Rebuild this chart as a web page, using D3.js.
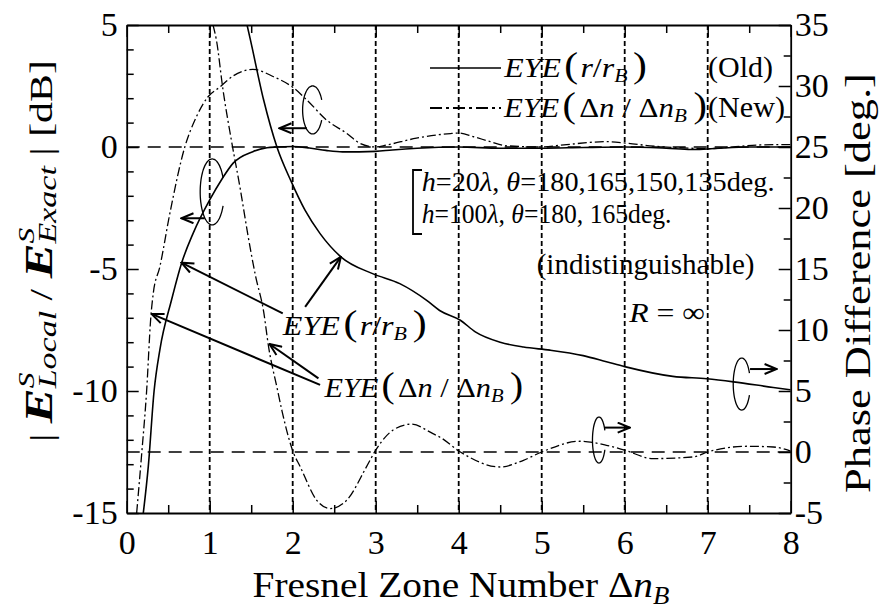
<!DOCTYPE html>
<html>
<head>
<meta charset="utf-8">
<script src="https://cdn.jsdelivr.net/npm/d3@7"></script>
<style>
  html, body { margin: 0; padding: 0; background: #fff; }
  svg { display: block; }
</style>
</head>
<body>
<svg id="chart" width="887" height="612"></svg>
<script>
// ---- axis ticks ----
const xTicks = [0, 1, 2, 3, 4, 5, 6, 7, 8];
const xMinor = [0.5, 1.5, 2.5, 3.5, 4.5, 5.5, 6.5, 7.5];
const dbTicks = [-15, -10, -5, 0, 5];
const dbMinor = [-14, -13, -12, -11, -9, -8, -7, -6, -4, -3, -2, -1, 1, 2, 3, 4];
const degTicks = [-5, 0, 5, 10, 15, 20, 25, 30, 35];
const degMinor = [-2.5, 2.5, 7.5, 12.5, 17.5, 22.5, 27.5, 32.5];
const zoneLines = [1, 2, 3, 4, 5, 6, 7];

// ---- EYE(r/rB) (Old): amplitude ratio [dB] ----
const ampOldDn = [0.20, 0.26, 0.33, 0.40, 0.54, 0.66, 0.80, 1.00, 1.15, 1.28, 1.52, 1.69, 1.80, 2.00, 2.20, 2.40, 2.60, 2.80, 3.00, 3.20, 3.50, 4.00, 4.50, 5.00, 5.50, 6.00, 6.50, 6.80, 7.00, 7.50, 8.00];
const ampOldDb = [-15.0, -13.1, -10.0, -8.3, -6.27, -4.77, -3.54, -2.17, -1.3, -0.67, -0.19, -0.03, 0.0, 0.02, -0.04, -0.14, -0.2, -0.2, -0.18, -0.12, -0.05, 0.0, -0.05, -0.05, -0.02, 0.0, -0.05, -0.1, -0.08, 0.0, 0.0];

// ---- EYE(Δn/ΔnB) (New): amplitude ratio [dB] ----
const ampNewDn = [0.12, 0.18, 0.24, 0.29, 0.32, 0.40, 0.52, 0.70, 0.84, 0.98, 1.12, 1.28, 1.52, 1.77, 2.00, 2.17, 2.41, 2.65, 2.81, 3.00, 3.13, 3.49, 3.90, 4.00, 4.18, 4.38, 4.58, 4.98, 5.30, 5.78, 6.02, 6.30, 6.79, 6.99, 7.30, 7.60, 8.00];
const ampNewDb = [-15.0, -12.6, -10.0, -7.0, -6.0, -4.9, -2.72, 0.0, 1.24, 2.06, 2.45, 2.91, 3.18, 2.88, 2.45, 1.93, 1.1, 0.56, 0.15, 0.0, 0.08, 0.36, 0.55, 0.57, 0.42, 0.22, 0.05, 0.0, 0.1, 0.22, 0.16, 0.05, -0.05, -0.07, 0.0, 0.08, 0.1];

// ---- EYE(r/rB) (Old): phase difference [deg.] ----
const phOldDn = [1.45, 1.49, 1.65, 1.81, 1.98, 2.15, 2.33, 2.58, 2.97, 3.29, 3.61, 3.77, 4.02, 4.20, 4.50, 4.78, 5.10, 5.50, 5.78, 6.00, 6.58, 6.99, 7.31, 7.79, 8.00];
const phOldDeg = [35.0, 33.8, 28.85, 25.0, 22.2, 19.8, 17.9, 16.0, 14.6, 13.8, 12.45, 11.6, 10.8, 9.85, 9.0, 8.6, 8.35, 7.9, 7.4, 7.0, 6.2, 6.0, 5.75, 5.29, 5.1];

// ---- EYE(Δn/ΔnB) (New): phase difference [deg.] ----
const phNewDn = [1.04, 1.08, 1.16, 1.26, 1.37, 1.46, 1.55, 1.65, 1.71, 1.81, 1.87, 1.95, 2.00, 2.09, 2.29, 2.45, 2.65, 2.89, 3.00, 3.21, 3.43, 3.69, 3.77, 4.02, 4.50, 4.78, 5.00, 5.46, 5.78, 6.00, 6.34, 6.83, 7.00, 7.47, 7.79, 8.00];
const phNewDeg = [35.0, 33.8, 29.7, 25.6, 21.5, 17.8, 14.5, 11.5, 8.6, 5.3, 3.4, 1.2, 0.1, -1.2, -3.96, -4.64, -3.96, -1.2, 0.15, 1.8, 2.28, 1.5, 1.23, 0.0, -1.23, -0.68, 0.0, 0.88, 0.55, 0.15, -0.54, -0.4, 0.0, 0.47, 0.41, 0.08];

const FONT = "'Liberation Serif', serif";
const svg = d3.select('#chart');

const x = d3.scaleLinear().domain([0, 8]).range([126.7, 790.7]);
const yL = d3.scaleLinear().domain([-15, 5]).range([513, 25]);
const yR = d3.scaleLinear().domain([-5, 35]).range([513, 25]);

const X0 = x.range()[0], X1 = x.range()[1];
const Y0 = yL.range()[0], Y1 = yL.range()[1];

const defs = svg.append('defs');
// clip for the curves
defs.append('clipPath').attr('id', 'plot-clip')
  .append('rect').attr('x', X0).attr('y', Y1).attr('width', X1 - X0).attr('height', Y0 - Y1);

// open arrow head
defs.append('marker')
  .attr('id', 'head').attr('viewBox', '0 0 14 12')
  .attr('markerWidth', 14).attr('markerHeight', 12)
  .attr('refX', 13).attr('refY', 6)
  .attr('markerUnits', 'userSpaceOnUse').attr('orient', 'auto')
  .append('path').attr('d', 'M1,1 L13,6 L1,11')
  .attr('fill', 'none').attr('stroke', '#000').attr('stroke-width', 2);

// ---- reference lines ----
const grid = svg.append('g');
grid.selectAll('line.zone').data(zoneLines).join('line')
  .attr('x1', d => x(d)).attr('x2', d => x(d))
  .attr('y1', Y1).attr('y2', Y0)
  .attr('stroke', '#000').attr('stroke-width', 1.8)
  .attr('stroke-dasharray', '5,3');
grid.append('line')
  .attr('x1', X0).attr('x2', X1).attr('y1', yL(0)).attr('y2', yL(0))
  .attr('stroke', '#000').attr('stroke-width', 1.3).attr('stroke-dasharray', '13,8');
grid.append('line')
  .attr('x1', X0).attr('x2', X1).attr('y1', yR(0)).attr('y2', yR(0))
  .attr('stroke', '#000').attr('stroke-width', 1.3).attr('stroke-dasharray', '13,8');

// ---- axes ----
function styleAxis(g, size) {
  g.attr('font-family', null).attr('font-size', size);
  g.selectAll('.domain').attr('stroke', '#000').attr('stroke-width', 1.8);
  g.selectAll('.tick line').attr('stroke', '#000').attr('stroke-width', 1.5);
  g.selectAll('.tick text').attr('fill', '#000').style('font-family', FONT);
}
const fmt = d => String(d);

svg.append('g').attr('transform', `translate(0,${Y0})`)
  .call(d3.axisBottom(x).tickValues(xTicks).tickFormat(fmt).tickSizeInner(-12).tickSizeOuter(0).tickPadding(17))
  .call(g => styleAxis(g, 34));
svg.append('g').attr('transform', `translate(0,${Y0})`)
  .call(d3.axisBottom(x).tickValues(xMinor).tickFormat('').tickSizeInner(-8).tickSizeOuter(0))
  .call(g => { styleAxis(g, 34); g.select('.domain').remove(); });
svg.append('g').attr('transform', `translate(0,${Y1})`)
  .call(d3.axisTop(x).tickValues(xTicks).tickFormat('').tickSizeInner(-12).tickSizeOuter(0))
  .call(g => styleAxis(g, 34));
svg.append('g').attr('transform', `translate(0,${Y1})`)
  .call(d3.axisTop(x).tickValues(xMinor).tickFormat('').tickSizeInner(-8).tickSizeOuter(0))
  .call(g => { styleAxis(g, 34); g.select('.domain').remove(); });

svg.append('g').attr('transform', `translate(${X0},0)`)
  .call(d3.axisLeft(yL).tickValues(dbTicks).tickFormat(fmt).tickSizeInner(-12).tickSizeOuter(0).tickPadding(9))
  .call(g => styleAxis(g, 34));
svg.append('g').attr('transform', `translate(${X0},0)`)
  .call(d3.axisLeft(yL).tickValues(dbMinor).tickFormat('').tickSizeInner(-7).tickSizeOuter(0))
  .call(g => { styleAxis(g, 34); g.select('.domain').remove(); });

svg.append('g').attr('transform', `translate(${X1},0)`)
  .call(d3.axisRight(yR).tickValues(degTicks).tickFormat(fmt).tickSizeInner(-12).tickSizeOuter(0).tickPadding(4))
  .call(g => styleAxis(g, 34));
svg.append('g').attr('transform', `translate(${X1},0)`)
  .call(d3.axisRight(yR).tickValues(degMinor).tickFormat('').tickSizeInner(-7).tickSizeOuter(0))
  .call(g => { styleAxis(g, 34); g.select('.domain').remove(); });

// ---- curves ----
const curves = svg.append('g').attr('clip-path', 'url(#plot-clip)');
function drawSeries(xs, ys, yScale, dash, width) {
  const pts = xs.map((d, i) => [d, ys[i]]);
  const line = d3.line().x(d => x(d[0])).y(d => yScale(d[1])).curve(d3.curveMonotoneX);
  curves.append('path').datum(pts).attr('d', line)
    .attr('fill', 'none').attr('stroke', '#000').attr('stroke-width', width)
    .attr('stroke-dasharray', dash);
}
const DASHDOT = '9,3,2,3';
drawSeries(ampOldDn, ampOldDb, yL, null, 1.6);
drawSeries(ampNewDn, ampNewDb, yL, DASHDOT, 1.3);
drawSeries(phOldDn, phOldDeg, yR, null, 1.6);
drawSeries(phNewDn, phNewDeg, yR, DASHDOT, 1.3);

// ---- text helpers ----
// stretch a text element horizontally to a given width, aligned on its anchor
function fit(textSel, width, align) {
  const b = textSel.node().getBBox();
  const k = width / b.width;
  const ox = align === 'middle' ? b.x + b.width / 2 : (align === 'end' ? b.x + b.width : b.x);
  textSel.attr('transform', `scale(${k},1) translate(${-ox},0)`);
}
function label(px, py, size, rot) {
  const g = svg.append('g').attr('transform', `translate(${px},${py})` + (rot ? ` rotate(${rot})` : ''));
  return g.append('text').attr('font-size', size).attr('fill', '#000').style('font-family', FONT);
}
function ts(t, s, opts = {}) {
  const sp = t.append('tspan').text(s);
  for (const k in opts) sp.attr(k, opts[k]);
  return sp;
}
function eyeR(t) {
  ts(t, 'EYE', { 'font-style': 'italic' });
  ts(t, '(', { 'font-size': '1.3em', dx: 3 });
  ts(t, 'r', { 'font-style': 'italic', dx: 2 });
  ts(t, '/');
  ts(t, 'r', { 'font-style': 'italic' });
  ts(t, 'B', { 'font-style': 'italic', 'font-size': '0.68em', dy: 5 });
  ts(t, ')', { 'font-size': '1.3em', dy: -5, dx: 5 });
}
function eyeDn(t) {
  ts(t, 'EYE', { 'font-style': 'italic' });
  ts(t, '(', { 'font-size': '1.3em', dx: 3 });
  ts(t, 'Δ', { dx: 3 });
  ts(t, 'n', { 'font-style': 'italic' });
  ts(t, ' / ');
  ts(t, 'Δ');
  ts(t, 'n', { 'font-style': 'italic' });
  ts(t, 'B', { 'font-style': 'italic', 'font-size': '0.68em', dy: 5 });
  ts(t, ')', { 'font-size': '1.3em', dy: -5, dx: 6 });
}

// ---- axis titles ----
{
  const t = label(461, 597, 36);
  ts(t, 'Fresnel Zone Number ');
  ts(t, 'Δ');
  ts(t, 'n', { 'font-style': 'italic' });
  ts(t, 'B', { 'font-style': 'italic', 'font-size': '0.68em', dy: 7 });
  fit(t, 417, 'middle');
}
{
  const t = label(52, 251, 32, -90);
  ts(t, '| ');
  ts(t, 'E', { 'font-weight': 'bold', 'font-style': 'italic', 'font-size': 40 });
  ts(t, 'S', { 'font-style': 'italic', 'font-size': 24, dy: -18 });
  ts(t, 'Local', { 'font-style': 'italic', 'font-size': 26, dx: -12, dy: 22 });
  ts(t, ' / ', { dy: -4 });
  ts(t, 'E', { 'font-weight': 'bold', 'font-style': 'italic', 'font-size': 40 });
  ts(t, 'S', { 'font-style': 'italic', 'font-size': 24, dy: -18 });
  ts(t, 'Exact', { 'font-style': 'italic', 'font-size': 26, dx: -12, dy: 22 });
  ts(t, ' | [dB]', { dy: -4 });
  fit(t, 382, 'middle');
}
{
  const t = label(870, 283, 36, -90);
  ts(t, 'Phase Difference [deg.]');
  fit(t, 420, 'middle');
}

// ---- legend ----
const legend = [
  { y: 68, dash: null, width: 1.6, text: eyeR, w: 144, tag: '(Old)', tagW: 65 },
  { y: 108, dash: '12,4,3,4', width: 2, text: eyeDn, w: 204, tag: '(New)', tagW: 77 }
];
legend.forEach(d => {
  svg.append('line').attr('x1', 430).attr('x2', 501).attr('y1', d.y).attr('y2', d.y)
    .attr('stroke', '#000').attr('stroke-width', d.width).attr('stroke-dasharray', d.dash);
  const t = label(503, d.y + 9, 28);
  d.text(t);
  fit(t, d.w, 'start');
  const tag = label(708, d.y + 9, 30);
  ts(tag, d.tag);
  fit(tag, d.tagW, 'start');
});

// ---- parameter note ----
{
  const t = label(421.7, 191, 28);
  ts(t, 'h', { 'font-style': 'italic' });
  ts(t, '=20');
  ts(t, 'λ', { 'font-style': 'italic' });
  ts(t, ',  ');
  ts(t, 'θ', { 'font-style': 'italic' });
  ts(t, '=180,165,150,135deg.');
  fit(t, 353, 'start');
}
{
  const t = label(421.7, 223, 28);
  ts(t, 'h', { 'font-style': 'italic' });
  ts(t, '=100');
  ts(t, 'λ', { 'font-style': 'italic' });
  ts(t, ',  ');
  ts(t, 'θ', { 'font-style': 'italic' });
  ts(t, '=180, 165deg.');
  fit(t, 250, 'start');
}
svg.append('path')
  .attr('d', d3.line()([[422, 170], [413, 170], [413, 234], [422, 234]]))
  .attr('fill', 'none').attr('stroke', '#000').attr('stroke-width', 1.8);
{
  const t = label(536.7, 274, 29);
  ts(t, '(indistinguishable)');
  fit(t, 218, 'start');
}
{
  const t = label(628, 322, 28);
  ts(t, 'R', { 'font-style': 'italic' });
  ts(t, ' = ∞');
  fit(t, 77, 'start');
}

// ---- curve labels with pointers ----
{
  const t = label(281.7, 335, 28);
  eyeR(t);
  fit(t, 145, 'start');
}
{
  const t = label(323.3, 397, 28);
  eyeDn(t);
  fit(t, 200, 'start');
}
// pointers: [from Δn, from value, to Δn, to value, axis]
const pointers = [
  [1.88, -6.82, 0.66, -4.74, 'L'],
  [2.15, 11.9, 2.58, 16.0, 'R'],
  [2.33, -9.75, 0.30, -6.84, 'L'],
  [2.31, 6.04, 1.72, 8.85, 'R']
];
pointers.forEach(p => {
  const ys = p[4] === 'L' ? yL : yR;
  svg.append('line')
    .attr('x1', x(p[0])).attr('y1', ys(p[1]))
    .attr('x2', x(p[2])).attr('y2', ys(p[3]))
    .attr('stroke', '#000').attr('stroke-width', 2)
    .attr('marker-end', 'url(#head)');
});

// axis-selector rings: [centre Δn, centre value, rx, ry, axis, arrow from Δn, arrow to Δn, arrow value]
const rings = [
  [2.24, 1.52, 10, 24, 'L', 2.17, 1.84, 0.77],
  [1.03, -1.84, 12, 33, 'L', 0.94, 0.66, -2.92],
  [7.41, 5.57, 8.5, 26, 'R', 7.51, 7.83, 6.8],
  [5.69, 0.98, 6.5, 23, 'R', 5.76, 6.06, 2.0]
];
rings.forEach(r => {
  const ys = r[4] === 'L' ? yL : yR;
  const cx = x(r[0]), cy = ys(r[1]);
  const angles = d3.range(25, 336, 5).map(a => a * Math.PI / 180);
  const arc = d3.line().curve(d3.curveCatmullRom)(angles.map(a => [cx + r[2] * Math.cos(a), cy + r[3] * Math.sin(a)]));
  svg.append('path').attr('d', arc).attr('fill', 'none').attr('stroke', '#000').attr('stroke-width', 1.3);
  svg.append('line')
    .attr('x1', x(r[5])).attr('y1', ys(r[7]))
    .attr('x2', x(r[6])).attr('y2', ys(r[7]))
    .attr('stroke', '#000').attr('stroke-width', 2)
    .attr('marker-end', 'url(#head)');
});
</script>
</body>
</html>
